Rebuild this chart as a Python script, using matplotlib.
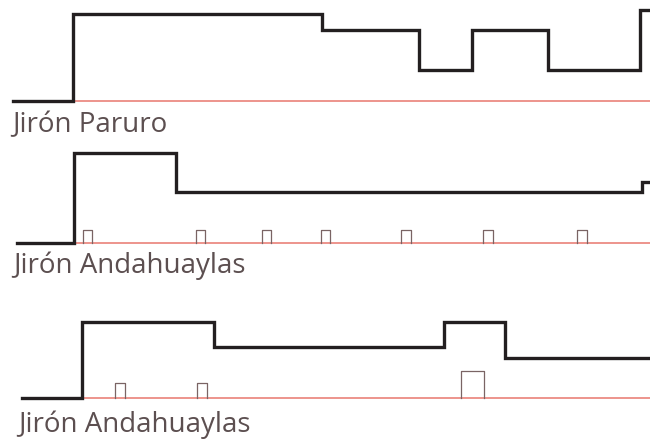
import matplotlib
matplotlib.use("Agg")
import matplotlib.pyplot as plt

# three street profiles: black step line (level changes), red baseline with small pulses
labels = ["Jirón Paruro", "Jirón Andahuaylas", "Jirón Andahuaylas"]

step_x = [
    [13, 73, 322, 419, 472, 548, 640, 650],
    [17, 74, 176, 642, 650],
    [22, 82, 214, 444, 505, 650],
]
step_y = [
    [0, 87, 71, 31, 71, 31, 91, 91],
    [0, 90, 51, 61, 61],
    [0, 76, 51, 76, 40, 40],
]

red_start = [73, 74, 82]

pulse_start = [
    [],
    [83, 196, 262, 321, 401, 483, 577],
    [115, 197, 461],
]
pulse_width = [
    [],
    [9, 9, 9, 9, 10, 10, 10],
    [10, 10, 23],
]
pulse_height = [
    [],
    [13, 13, 13, 13, 13, 13, 13],
    [15, 15, 27],
]

# axes placement in figure pixels: (top row, bottom row, baseline row)
W, H = 650, 441
panels = [(0, 111, 101), (140, 253, 243), (300, 408, 398)]
label_x = [12, 13, 18]
label_y = [-31, -30, -34]

fig = plt.figure(figsize=(6.5, 4.41), dpi=100)
fig.patch.set_facecolor("white")

for i, (top, bottom, base) in enumerate(panels):
    ax = fig.add_axes([0, 1 - bottom / H, 1, (bottom - top) / H])
    ax.set_xlim(0, W)
    ax.set_ylim(base - bottom, base - top)
    ax.axis("off")

    ax.hlines(0, red_start[i], W, color="#e8766e", lw=1.1, zorder=1)
    for s, w, h in zip(pulse_start[i], pulse_width[i], pulse_height[i]):
        ax.plot([s, s, s + w, s + w], [0, h, h, 0], color="#7a6464", lw=0.9, zorder=2)
    ax.step(step_x[i], step_y[i], where="post", color="#231f20", lw=2.4,
            solid_joinstyle="miter", zorder=3)

    ax.text(label_x[i], label_y[i], labels[i], fontsize=20, family="Open Sans",
            color="#5c4f50", va="baseline", ha="left", clip_on=False)

fig.savefig("out.png", dpi=100)
